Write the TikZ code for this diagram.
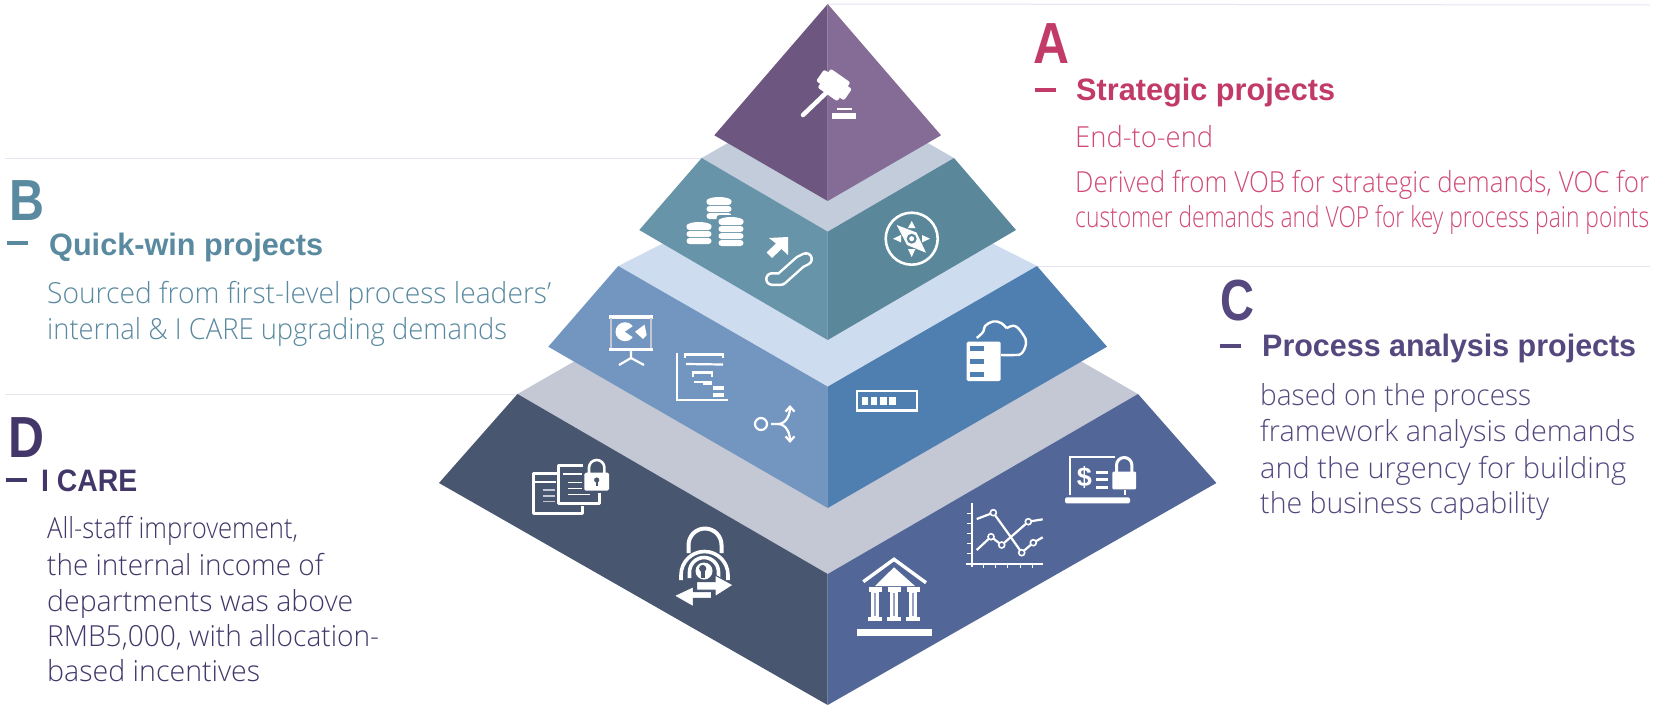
\documentclass[tikz,border=0pt]{standalone}
\usepackage{fontspec}
\usepackage{graphicx}
\setmainfont{Open Sans Light}
\newfontfamily\headfont{Liberation Sans}[BoldFont={Liberation Sans Bold}]
\usetikzlibrary{arrows.meta}
\definecolor{purpleL}{HTML}{6D5780}
\definecolor{purpleR}{HTML}{846C96}
\definecolor{tealL}{HTML}{6794A8}
\definecolor{tealR}{HTML}{5B879B}
\definecolor{blueL}{HTML}{7396C1}
\definecolor{blueR}{HTML}{4F7EB0}
\definecolor{navyL}{HTML}{48566F}
\definecolor{navyR}{HTML}{526698}
\definecolor{bandA}{HTML}{C2CCDB}
\definecolor{bandB}{HTML}{CDDCEE}
\definecolor{bandC}{HTML}{C3C8D4}
\definecolor{guide}{HTML}{E8E3EE}
\definecolor{textA}{HTML}{C23A68}
\definecolor{bodyA}{HTML}{D14B75}
\definecolor{textB}{HTML}{5A8AA0}
\definecolor{textC}{HTML}{55487F}
\definecolor{textD}{HTML}{433769}
\newcommand{\fitline}[2]{\resizebox{#1pt}{\height}{#2}}
\tikzset{
	letter node/.style = {inner sep=0pt,anchor=base west,font=\headfont\bfseries\fontsize{58}{58}\selectfont},
	title node/.style = {inner sep=0pt,anchor=base west,font=\headfont\bfseries\fontsize{31}{31}\selectfont},
	body node/.style = {inner sep=0pt,anchor=base west,font=\fontsize{29}{29}\selectfont},
	dash node/.style = {inner sep=0pt,minimum width=21pt,minimum height=4pt,anchor=west},
	guide line/.style = {draw=guide,line width=1pt},
	icon/.style = {draw=white,line width=2.6pt,line join=round},
	thin icon/.style = {draw=white,line width=1.8pt}
}
\begin{document}
\begin{tikzpicture}[x=1pt,y=-1pt]
	\useasboundingbox (0,0) rectangle (1656,710);
	\fill[white] (0,0) rectangle (1656,710);

	% corners of the layers
	\coordinate (atop) at (827.7,4);
	\coordinate (aleft) at (714.3,135.3);
	\coordinate (aright) at (941,135.3);
	\coordinate (abot) at (827.7,201);
	\coordinate (btopl) at (701.7,158);
	\coordinate (btopr) at (954,158);
	\coordinate (bnotch) at (827.7,231.7);
	\coordinate (bleft) at (639.3,230);
	\coordinate (bright) at (1016,230);
	\coordinate (bbot) at (827.7,340);
	\coordinate (ctopl) at (618.3,266);
	\coordinate (ctopr) at (1037,266);
	\coordinate (cnotch) at (827.7,386.7);
	\coordinate (cleft) at (548.3,346.7);
	\coordinate (cright) at (1107,346.7);
	\coordinate (cbot) at (827.7,508);
	\coordinate (dtopl) at (517.5,394);
	\coordinate (dtopr) at (1138,394);
	\coordinate (dnotch) at (827.7,574);
	\coordinate (dleft) at (439,483);
	\coordinate (dright) at (1216.4,483);
	\coordinate (dbot) at (827.7,705);

	% guide lines
	\coordinate (aend) at (1650,5);
	\coordinate (bend) at (5,158);
	\coordinate (cend) at (1650,266);
	\coordinate (dend) at (5,394);
	\path[guide line] (atop) edge (aend);
	\path[guide line] (btopl) edge (bend);
	\path[guide line] (ctopr) edge (cend);
	\path[guide line] (dtopl) edge (dend);

	% bands
	\fill[bandC] (dtopl) -- (827.7,216) -- (dtopr) -- (dnotch) -- cycle;
	\fill[bandB] (ctopl) -- (827.7,160) -- (ctopr) -- (cnotch) -- cycle;
	\fill[bandA] (btopl) -- (827.7,86) -- (btopr) -- (bnotch) -- cycle;

	% layers
	\fill[navyL] (dleft) -- (dtopl) -- (dnotch) -- (dbot) -- cycle;
	\fill[navyR] (dright) -- (dtopr) -- (dnotch) -- (dbot) -- cycle;
	\fill[blueL] (cleft) -- (ctopl) -- (cnotch) -- (cbot) -- cycle;
	\fill[blueR] (cright) -- (ctopr) -- (cnotch) -- (cbot) -- cycle;
	\fill[tealL] (bleft) -- (btopl) -- (bnotch) -- (bbot) -- cycle;
	\fill[tealR] (bright) -- (btopr) -- (bnotch) -- (bbot) -- cycle;
	\fill[purpleL] (atop) -- (aleft) -- (abot) -- cycle;
	\fill[purpleR] (atop) -- (aright) -- (abot) -- cycle;

	% gavel
	\draw[white,line width=4.5pt,line cap=round] (826,93) -- (803,115);
	\fill[white,rounded corners=2pt,rotate around={-35:(834,85)}] (817,78) rectangle (851,92);
	\fill[white,rounded corners=2pt,rotate around={-35:(834,85)}] (822,73.5) rectangle (846,96.5);
	\fill[white] (832,112.5) rectangle (856,119);
	\fill[white] (837,107.5) rectangle (852,109.5);

	% coins
	\foreach \cx/\cy/\cn in {719/197/3,699/222/3,731/217/4}{
		\fill[tealL,rounded corners=3pt] (\cx-14.5,\cy-2) rectangle (\cx+14.5,\cy+\cn*7+3);
		\foreach \k in {1,...,\cn}{
			\fill[white,rounded corners=3pt] (\cx-12.5,\cy+\k*7-5) rectangle (\cx+12.5,\cy+\k*7+1);
		}
		\fill[white] (\cx,\cy+4) ellipse (12.5pt and 4pt);
	}

	% escalator
	\draw[white,line width=14pt,line cap=round,line join=round] (772,279) -- (781,279) -- (800,262) -- (806,259);
	\draw[tealL,line width=9pt,line cap=round,line join=round] (772,279) -- (781,279) -- (800,262) -- (806,259);
	\fill[white] (769,238) -- (788,237) -- (788,255) -- (781.5,249) -- (772,258) -- (766.5,252.5) -- (776,243.5) -- cycle;

	% compass
	\draw[icon] (911.7,238.7) circle (26pt);
	\fill[white] (896.7,225) -- (916.5,232.5) -- (926,252.7) -- (907,245) -- cycle;
	\fill[tealR] (911.7,238.7) circle (5pt);
	\fill[white] (911.7,238.7) circle (2.5pt);
	\fill[white] (911.7,221) -- (908,228) -- (915.4,228) -- cycle;
	\fill[white] (911.7,257) -- (908,249) -- (915.4,249) -- cycle;
	\fill[white] (893,238.7) -- (901,235) -- (901,242.4) -- cycle;
	\fill[white] (930,238.7) -- (922,235) -- (922,242.4) -- cycle;

	% presentation
	\fill[white] (608.5,315) rectangle (653,318.5);
	\fill[white] (608.5,347.5) rectangle (653,351);
	\draw[draw=bandC,line width=1.4pt] (611,318) -- (611,348) (651,318) -- (651,348);
	\fill[white] (625,331.7) circle (9.5pt);
	\fill[blueL] (625,331.7) -- (637,323.5) -- (637,340) -- cycle;
	\fill[white] (635,331.7) -- (644.5,324.7) -- (646.7,335) -- (643,339) -- cycle;
	\draw[thin icon,line width=2.2pt] (631,351) -- (631,358) -- (619,365) (631,358) -- (644,365);

	% gantt
	\draw[thin icon,line width=2.2pt] (677,353) -- (677,400) -- (728,400);
	\draw[thin icon,line width=2.2pt] (685,358) -- (685,354.5) -- (723,354.5) -- (723,358);
	\draw[thin icon,line width=2.2pt] (686,364) -- (723,364.5);
	\draw[thin icon,line width=2.2pt] (693,377) -- (693,372.5) -- (712,372.5) -- (712,377);
	\draw[thin icon,line width=2.2pt] (694,382) -- (712,382);
	\draw[thin icon,line width=2.2pt] (703,384) -- (712,384);
	\fill[white] (713,386) rectangle (724,390);
	\fill[white] (713,393) rectangle (724,396.5);

	% branch
	\draw[thin icon,line width=2.2pt] (761,424) circle (6pt);
	\draw[thin icon,line width=2.2pt,-{Straight Barb[length=5pt,width=9pt]}] (771,424) -- (778,424) to[out=0,in=-90] (790,405);
	\draw[thin icon,line width=2.2pt,-{Straight Barb[length=5pt,width=9pt]}] (778,424) to[out=0,in=90] (790,443);

	% server and cloud
	\fill[white,rounded corners=1.5pt] (966.7,341.7) rectangle (1000.7,381);
	\foreach \sy in {346,359.3,372.3}{
		\fill[blueR] (970,\sy) rectangle (984,\sy+4.8);
	}
	\draw[thin icon,line width=2.4pt] plot[smooth,tension=.7] coordinates {(976.7,338) (983.3,331.7) (985,326) (993,321.5) (1001,323) (1006.7,328.3)};
	\draw[thin icon,line width=2.4pt] plot[smooth,tension=.7] coordinates {(1006.7,328.3) (1015,326) (1023.3,335) (1026,343.3) (1021.7,353.3) (1015,355) (1001,355)};

	% level bar
	\draw[thin icon,line width=2.4pt] (857,391) rectangle (917,410.5);
	\foreach \bx in {861.7,870.7,880,889}{
		\fill[white] (\bx,397.3) rectangle (\bx+6.5,404.7);
	}

	% files and lock
	\draw[icon,line width=3pt] (556.7,473) -- (533.7,473) -- (533.7,513) -- (582.7,513) -- (582.7,506);
	\draw[thin icon] (533.7,482) -- (556,482);
	\draw[icon,line width=3pt] (583.3,465) -- (558.3,465) -- (558.3,503) -- (599.3,503) -- (599.3,493);
	\draw[thin icon] (563,474) -- (583,474);
	\foreach \ly in {490,496,501.7}{
		\draw[thin icon,line width=1.4pt,draw=bandC] (543.3,\ly) -- (555,\ly);
	}
	\draw[thin icon,line width=1.4pt] (568.3,482.7) -- (581.7,482.7) (568.3,488.3) -- (581.7,488.3) (568.3,494.3) -- (590,494.3);
	\fill[navyL] (582,470.5) rectangle (611,493);
	\fill[white,rounded corners=1.5pt] (584.3,472.7) rectangle (609,490.7);
	\draw[icon] (589,473) -- (589,467.7) arc[start angle=180,end angle=0,radius=7.7pt] -- (604.4,473);
	\fill[navyL] (596.7,480) circle (2.6pt);
	\fill[navyL] (595.5,480) rectangle (598,486);

	% lock with arrows
	\draw[icon,line width=4pt] (688.5,553) -- (688.5,545) arc[start angle=180,end angle=0,radius=16.5pt] -- (721.5,553);
	\draw[icon,line width=3.6pt] (681,580) -- (681,575) arc[start angle=180,end angle=0,radius=23.5pt] -- (728,580);
	\draw[icon,line width=3.6pt] (689.5,578) -- (689.5,572) arc[start angle=180,end angle=0,radius=14.5pt] -- (718.5,578);
	\fill[white] (704,571) circle (8.5pt);
	\fill[navyL] (702.7,568.5) circle (3.6pt);
	\fill[navyL] (701,568.5) rectangle (704.5,578);
	\fill[white,draw=navyL,line width=1pt] (696.7,581.7) -- (715,581.7) -- (715,575) -- (733.3,585) -- (715,596.7) -- (715,590) -- (696.7,590) -- cycle;
	\fill[white,draw=navyL,line width=1pt] (711.7,591.7) -- (693.3,591.7) -- (693.3,586.7) -- (674,595.7) -- (693.3,606.7) -- (693.3,598.3) -- (711.7,598.3) -- cycle;

	% laptop
	\draw[thin icon,line width=2.2pt] (1115,456.7) -- (1070,456.7) -- (1070,495) (1125,490) -- (1125,495);
	\fill[white,rounded corners=1.5pt] (1065,497.3) rectangle (1130,503.3);
	\node[inner sep=0pt,text=white,font=\headfont\bfseries\fontsize{27}{27}\selectfont] (dollar) at (1084.3,477.5) {\$};
	\foreach \ly in {472.7,479.3,487.7}{
		\fill[white] (1096,\ly-1.3) rectangle (1108.3,\ly+1.3);
	}
	\fill[white,rounded corners=1pt] (1112.3,471.7) rectangle (1136,489.3);
	\draw[icon,line width=3pt] (1116.5,472) -- (1116.5,465.2) arc[start angle=180,end angle=0,radius=7.7pt] -- (1131.9,472);

	% chart
	\draw[thin icon,line width=2.2pt] (971.7,503.3) -- (971.7,566.7) (966,564) -- (1042.7,564);
	\foreach \tx in {983.3,995.7,1007.3,1020.7,1032.3}{
		\draw[thin icon,line width=1.2pt] (\tx,564) -- (\tx,568);
	}
	\foreach \ty in {513.3,523.3,533.3,543.3,553.3}{
		\draw[thin icon,line width=1.2pt] (967,\ty) -- (971.7,\ty);
	}
	\draw[thin icon,line width=2.2pt] (976.7,519) -- (993.3,512.7) -- (1009.3,535) -- (1021.7,552.7) -- (1033.3,542.7) -- (1042.7,537.3);
	\draw[thin icon,line width=2.2pt] (976.7,550) -- (991,536.7) -- (1001.7,545) -- (1028.3,521.7) -- (1042.7,519.3);
	\foreach \px/\py in {993.3/512.7,1021.7/552.7,1033.3/542.7,991/536.7,1001.7/545,1028.3/521.7}{
		\filldraw[draw=white,fill=navyR,line width=1.6pt] (\px,\py) circle (3pt);
	}

	% bank
	\draw[white,line width=3.4pt] (863.3,581.7) -- (894,559.3) -- (926,582.7);
	\fill[white] (875,586) -- (894,567.3) -- (915,586) -- cycle;
	\foreach \bx in {875,894,913.3}{
		\fill[white] (\bx-6.5,587.3) rectangle (\bx+6.5,591.7);
		\fill[white] (\bx-4,591) rectangle (\bx+4,618);
		\fill[navyR!60!white] (\bx-1,593) rectangle (\bx+1,616);
		\fill[white] (\bx-7,617.3) rectangle (\bx+7,621);
	}
	\fill[white] (857.3,629) rectangle (932.3,635.7);

	% A
	\node[letter node,text=textA] (letA) at (1033,63) {\fitline{36}{A}};
	\node[dash node,fill=textA] (dashA) at (1035,90) {};
	\node[title node,text=textA] (titleA) at (1076,100) {\fitline{259}{Strategic projects}};
	\node[body node,text=bodyA] (bodyA1) at (1075,147) {\fitline{138}{End-to-end}};
	\node[body node,text=bodyA] (bodyA2) at (1075,192) {\fitline{574}{Derived from VOB for strategic demands, VOC for}};
	\node[body node,text=bodyA] (bodyA3) at (1075,227) {\fitline{574}{customer demands and VOP for key process pain points}};

	% B
	\node[letter node,text=textB] (letB) at (9,220) {\fitline{35}{B}};
	\node[dash node,fill=textB] (dashB) at (7,243) {};
	\node[title node,text=textB] (titleB) at (49,255) {\fitline{274}{Quick-win projects}};
	\node[body node,text=textB] (bodyB1) at (47,303) {\fitline{504}{Sourced from first-level process leaders'}};
	\node[body node,text=textB] (bodyB2) at (47,339) {\fitline{460}{internal \& I CARE upgrading demands}};

	% C
	\node[letter node,text=textC] (letC) at (1220,320) {\fitline{34}{C}};
	\node[dash node,fill=textC] (dashC) at (1220,346) {};
	\node[title node,text=textC] (titleC) at (1262,356) {\fitline{374}{Process analysis projects}};
	\node[body node,text=textC] (bodyC1) at (1260,405) {\fitline{271}{based on the process}};
	\node[body node,text=textC] (bodyC2) at (1260,441) {\fitline{375}{framework analysis demands}};
	\node[body node,text=textC] (bodyC3) at (1260,478) {\fitline{366}{and the urgency for building}};
	\node[body node,text=textC] (bodyC4) at (1260,513) {\fitline{289}{the business capability}};

	% D
	\node[letter node,text=textD] (letD) at (8,457) {\fitline{36}{D}};
	\node[dash node,fill=textD] (dashD) at (6,480) {};
	\node[title node,text=textD] (titleD) at (41,491) {\fitline{96}{I CARE}};
	\node[body node,text=textD] (bodyD1) at (47,538) {\fitline{251}{All-staff improvement,}};
	\node[body node,text=textD] (bodyD2) at (47,575) {\fitline{276}{the internal income of}};
	\node[body node,text=textD] (bodyD3) at (47,611) {\fitline{306}{departments was above}};
	\node[body node,text=textD] (bodyD4) at (47,646) {\fitline{332}{RMB5,000, with allocation-}};
	\node[body node,text=textD] (bodyD5) at (47,681) {\fitline{213}{based incentives}};
\end{tikzpicture}
\end{document}
